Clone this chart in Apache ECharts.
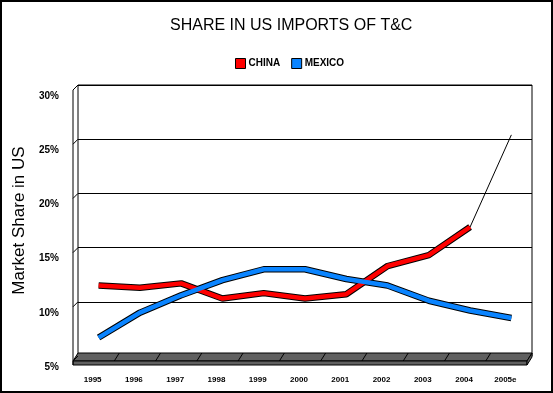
<!DOCTYPE html>
<html><head><meta charset="utf-8">
<style>html,body{margin:0;padding:0;background:#fff}#c{width:553px;height:393px}</style>
<script src="https://cdn.jsdelivr.net/npm/echarts@6/dist/echarts.min.js"></script>
</head><body><div id="c"></div>
<script>
const categories = ['1995','1996','1997','1998','1999','2000','2001','2002','2003','2004','2005e'];
const chinaValues = [11.5, 11.3, 11.7, 10.3, 10.8, 10.3, 10.7, 13.3, 14.3, 16.9, '-'];
const chinaEstimate = ['-', '-', '-', '-', '-', '-', '-', '-', '-', 16.9, 25.4];
const mexicoValues = [6.7, 9.0, 10.6, 12.0, 13.0, 13.0, 12.1, 11.5, 10.1, 9.2, 8.5];
const yTicks = [5, 10, 15, 20, 25, 30];

const chart = echarts.init(document.getElementById('c'));
const FONT = 'Liberation Sans, Arial, sans-serif';
chart.setOption({
  animation: false,
  backgroundColor: '#fff',
  title: {
    text: 'SHARE IN US IMPORTS OF T&C', left: 165, top: 13,
    textStyle: {fontFamily: FONT, fontSize: 16, fontWeight: 'normal', color: '#000'}
  },
  legend: {
    data: ['CHINA', 'MEXICO'], left: 230, top: 53, icon: 'rect',
    itemWidth: 10, itemHeight: 10, itemGap: 11,
    itemStyle: {borderColor: '#000', borderWidth: 1},
    textStyle: {fontFamily: FONT, fontSize: 10, fontWeight: 'bold', color: '#000', padding: [0,0,0,-2]}
  },
  grid: {left: 78, right: 21, top: 85, bottom: 37, show: true, backgroundColor: '#fff', borderColor: '#000', borderWidth: 1},
  xAxis: {
    type: 'category', data: categories, boundaryGap: true,
    axisLine: {show: false}, axisTick: {show: false},
    axisLabel: {margin: 20, fontFamily: FONT, fontSize: 8, fontWeight: 'bold', color: '#000', padding: [0, 12, 0, 0], interval: 0}
  },
  yAxis: {
    type: 'value', min: yTicks[0], max: yTicks[yTicks.length - 1], interval: 5,
    name: 'Market Share in US', nameLocation: 'middle', nameGap: 45, nameRotate: 90,
    nameTextStyle: {fontFamily: FONT, fontSize: 17, color: '#000'},
    axisLine: {show: false}, axisTick: {show: false},
    splitLine: {lineStyle: {color: '#000', width: 1}},
    axisLabel: {margin: 19, fontFamily: FONT, fontSize: 10, fontWeight: 'bold', color: '#000',
      lineHeight: 22, formatter: v => '\n' + v + '%'}
  },
  series: [
    {name: 'CHINA_edge', type: 'line', data: chinaValues, symbol: 'none', silent: true,
     lineStyle: {color: '#000', width: 6.5}, z: 2},
    {name: 'CHINA', type: 'line', data: chinaValues, symbol: 'none', color: '#ff0000',
     lineStyle: {color: '#ff0000', width: 4.5}, z: 3},
    {name: 'CHINA_est', type: 'line', data: chinaEstimate, symbol: 'none', silent: true,
     lineStyle: {color: '#000', width: 1}, z: 3},
    {name: 'MEXICO_edge', type: 'line', data: mexicoValues, symbol: 'none', silent: true,
     lineStyle: {color: '#000', width: 6.5}, z: 2},
    {name: 'MEXICO', type: 'line', data: mexicoValues, symbol: 'none', color: '#0a84ff',
     lineStyle: {color: '#0a84ff', width: 4.5}, z: 3}
  ]
});

// decorative 3D floor and side wall
const rect = chart.getModel().getComponent('grid').coordinateSystem.getRect();
const L = rect.x, R = rect.x + rect.width, T = rect.y, B = rect.y + rect.height;
const band = rect.width / categories.length;
const D = 5, H = 8;
const els = [];
els.push({type: 'rect', shape: {x: 1, y: 1, width: 551, height: 391}, style: {fill: 'none', stroke: '#000', lineWidth: 2}, z: 100});
els.push({type: 'polygon', shape: {points: [[L, B - 3], [R, B - 3], [R - D, B + H - 3], [L - D, B + H - 3]]}, style: {fill: '#606060', stroke: '#000', lineWidth: 1}, z: 50});
els.push({type: 'polygon', shape: {points: [[L - D, B + H - 3], [R - D, B + H - 3], [R - D, B + H + 1], [L - D, B + H + 1]]}, style: {fill: '#606060', stroke: '#000', lineWidth: 1}, z: 50});
els.push({type: 'polygon', shape: {points: [[R, B - 3], [R, B + 1], [R - D, B + H + 1], [R - D, B + H - 3]]}, style: {fill: '#606060', stroke: '#000', lineWidth: 1}, z: 50});
for (let i = 1; i < categories.length; i++) {
  const xb = L + i * band;
  els.push({type: 'line', shape: {x1: xb, y1: B - 3, x2: xb - D, y2: B + H - 3}, style: {stroke: '#000', lineWidth: 1}, z: 51});
}
els.push({type: 'line', shape: {x1: L - D, y1: T + D, x2: L - D, y2: B + H + 1}, style: {stroke: '#000', lineWidth: 1}, z: 51});
yTicks.forEach(v => {
  const yy = chart.convertToPixel({yAxisIndex: 0}, v);
  els.push({type: 'line', shape: {x1: L, y1: yy, x2: L - D, y2: yy + D}, style: {stroke: '#000', lineWidth: 1}, z: 51});
});
chart.setOption({graphic: {elements: els}});
</script></body></html>
